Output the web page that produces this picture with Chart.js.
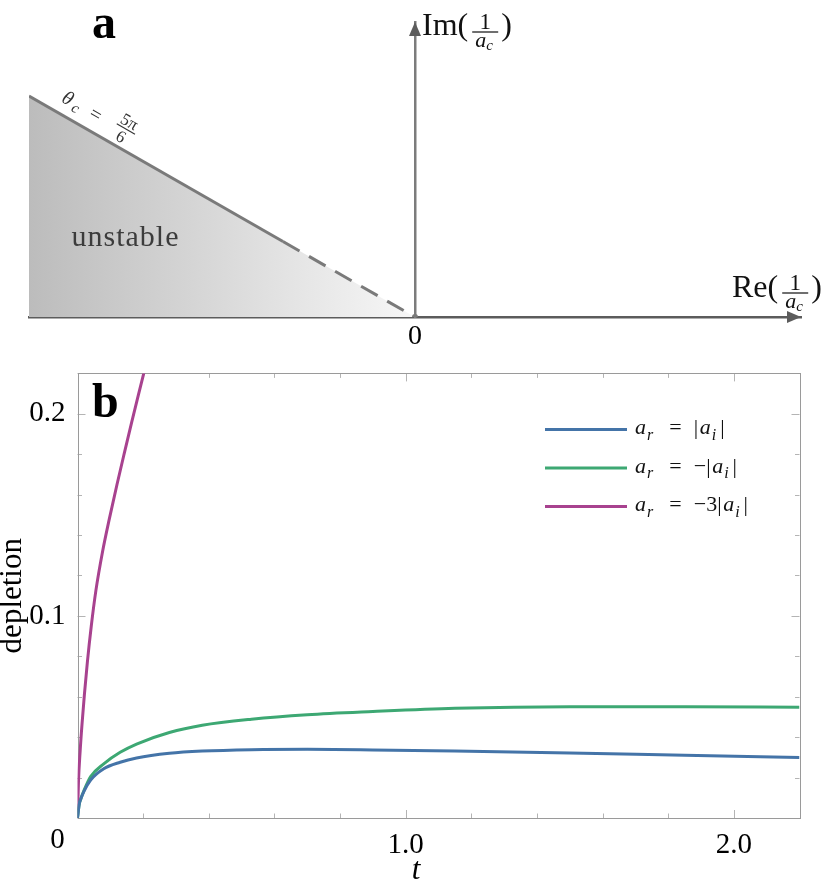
<!DOCTYPE html>
<html>
<head>
<meta charset="utf-8">
<script src="https://cdn.jsdelivr.net/npm/chart.js@4.4.0/dist/chart.umd.min.js"></script>
<style>
  body { margin: 0; background: #fff; }
  #wrap { position: relative; width: 830px; height: 881px; }
  #js--diagram { position: absolute; left: 0; top: 0; }
  #js--depletion { position: absolute; left: 0; top: 352px; }
</style>
</head>
<body>
<div id="wrap">
  <canvas id="js--diagram" width="830" height="352"></canvas>
  <canvas id="js--depletion" width="830" height="529"></canvas>
</div>
<script>
const serif = "'Liberation Serif', serif";

// panel a: the 1/a_c plane, wedge of instability (theta_c = 5pi/6)
const wedgeRe = [-1, -1, 0];
const wedgeIm = [0, 0.577, 0];
const solidRe = [-1, -0.342];
const solidIm = [0.577, 0.197];
const dashRe = [-0.342, 0];
const dashIm = [0.197, 0];

// panel b: depletion vs t
const tGrid = [0, 0.005, 0.01, 0.02, 0.04, 0.08, 0.13, 0.18, 0.28, 0.38, 0.53, 0.7, 0.9, 1.15, 1.5, 1.85, 2.2];
const depBlue = [0, 0.0066, 0.0094, 0.0133, 0.0188, 0.0244, 0.0276, 0.0297, 0.032, 0.0331, 0.0338, 0.034, 0.0337, 0.0331, 0.0322, 0.031, 0.0299];
const depGreen = [0, 0.0066, 0.0094, 0.0137, 0.0205, 0.0268, 0.0325, 0.0366, 0.0423, 0.0459, 0.0489, 0.0511, 0.0527, 0.0543, 0.0551, 0.0551, 0.0548];
const tMagenta = [0, 0.003, 0.008, 0.014, 0.021, 0.03, 0.042, 0.056, 0.076, 0.097, 0.12, 0.143, 0.165, 0.185, 0.2, 0.21];
const depMagenta = [0, 0.018, 0.033, 0.047, 0.061, 0.077, 0.095, 0.1125, 0.1315, 0.148, 0.1648, 0.1808, 0.1958, 0.209, 0.2188, 0.2252];
const seriesLabels = ['a_r = |a_i|', 'a_r = −|a_i|', 'a_r = −3|a_i|'];
const seriesColors = ['#4474a8', '#3da873', '#a8428f'];

function pts(xs, ys){
  return xs.map(function(x, i){ return {x: x, y: ys[i]}; });
}

function wedgeGradient(context){
  const chart = context.chart;
  if(!chart.chartArea) return '#d0d0d0';
  const x0 = chart.scales.x.getPixelForValue(-1);
  const x1 = chart.scales.x.getPixelForValue(0);
  const g = chart.ctx.createLinearGradient(x0, 0, x1, 0);
  g.addColorStop(0, '#bcbcbc');
  g.addColorStop(1, '#f7f7f7');
  return g;
}

function centered(ctx, txt, x, y){
  ctx.fillText(txt, x - ctx.measureText(txt).width / 2, y);
}

// 1 over a_c, bar at barY
function oneOverA(ctx, x, barY){
  ctx.font = '23px ' + serif;
  const w = 26;
  centered(ctx, '1', x + w / 2, barY - 3);
  ctx.fillRect(x, barY - 0.6, w, 1.2);
  ctx.font = 'italic 22px ' + serif;
  ctx.fillText('a', x + 3, barY + 15);
  ctx.font = 'italic 15px ' + serif;
  ctx.fillText('c', x + 14, barY + 18);
  return x + w;
}

const diagramLabels = {
  id: 'diagramLabels',
  afterDraw(chart){
    const ctx = chart.ctx;
    const xs = chart.scales.x, ys = chart.scales.y;
    const ox = xs.getPixelForValue(0), oy = ys.getPixelForValue(0);
    const right = xs.getPixelForValue(xs.max), top = ys.getPixelForValue(ys.max);
    ctx.save();
    // arrow heads
    ctx.fillStyle = '#5c5c5c';
    ctx.beginPath();
    ctx.moveTo(right, oy); ctx.lineTo(right - 14, oy - 6); ctx.lineTo(right - 14, oy + 6);
    ctx.fill();
    ctx.beginPath();
    ctx.moveTo(ox, top); ctx.lineTo(ox - 6, top + 14); ctx.lineTo(ox + 6, top + 14);
    ctx.fill();

    ctx.fillStyle = '#000';
    ctx.font = 'bold 48px ' + serif;
    ctx.fillText('a', 92, 38);

    ctx.font = '28px ' + serif;
    centered(ctx, '0', ox, oy + 27);

    // Im(1/a_c)
    ctx.fillStyle = '#111';
    ctx.font = '32px ' + serif;
    let x = ox + 7;
    ctx.fillText('Im(', x, top + 13);
    x += ctx.measureText('Im(').width + 4;
    x = oneOverA(ctx, x, top + 10);
    ctx.font = '32px ' + serif;
    ctx.fillText(')', x + 3, top + 13);

    // Re(1/a_c)
    x = 732;
    ctx.fillText('Re(', x, oy - 20);
    x += ctx.measureText('Re(').width + 4;
    x = oneOverA(ctx, x, oy - 24);
    ctx.font = '32px ' + serif;
    ctx.fillText(')', x + 3, oy - 20);

    // unstable
    ctx.fillStyle = '#3c3c3c';
    ctx.font = '30px ' + serif;
    ctx.letterSpacing = '1px';
    centered(ctx, 'unstable', xs.getPixelForValue(-0.75), ys.getPixelForValue(0.186));
    ctx.letterSpacing = '0px';

    // theta_c = 5pi/6 along the boundary
    const p0x = xs.getPixelForValue(solidRe[0]), p0y = ys.getPixelForValue(solidIm[0]);
    const p1x = xs.getPixelForValue(solidRe[1]), p1y = ys.getPixelForValue(solidIm[1]);
    ctx.translate(p0x, p0y);
    ctx.rotate(Math.atan2(p1y - p0y, p1x - p0x));
    ctx.fillStyle = '#333';
    ctx.font = 'italic 20px ' + serif;
    centered(ctx, 'θ', 35, -11);
    ctx.font = 'italic 15px ' + serif;
    ctx.fillText('c', 43, -8);
    ctx.font = '20px ' + serif;
    centered(ctx, '=', 67, -11);
    ctx.font = '17px ' + serif;
    centered(ctx, '5π', 100, -22);
    ctx.fillRect(90, -20, 21, 1.1);
    centered(ctx, '6', 100, -5);
    ctx.restore();
  }
};

const diagram = new Chart(document.getElementById('js--diagram'), {
  type: 'line',
  data: {
    datasets: [
      { data: pts(wedgeRe, wedgeIm), fill: 'origin', backgroundColor: wedgeGradient, borderWidth: 0, pointRadius: 0, order: 3 },
      { data: pts(solidRe, solidIm), borderColor: '#7a7a7a', borderWidth: 3, pointRadius: 0, order: 1 },
      { data: pts(dashRe, dashIm), borderColor: '#7a7a7a', borderWidth: 3, borderDash: [19, 11], pointRadius: [0, 3],
        pointBackgroundColor: '#7a7a7a', pointBorderWidth: 0, order: 0 }
    ]
  },
  options: {
    responsive: false,
    animation: false,
    devicePixelRatio: 1,
    layout: { padding: { left: 29, right: 29, top: 22, bottom: 35 } },
    plugins: { legend: { display: false }, tooltip: { enabled: false } },
    scales: {
      x: { type: 'linear', min: -1, max: 1, position: { y: 0 }, z: 1,
           grid: { display: false }, ticks: { display: false },
           border: { display: true, color: '#5c5c5c', width: 2.5 } },
      y: { type: 'linear', min: 0, max: 0.77, position: { x: 0 }, z: 1,
           grid: { display: false }, ticks: { display: false },
           border: { display: true, color: '#7c7c7c', width: 2.5 } }
    }
  },
  plugins: [diagramLabels]
});

function near(v, step){
  return Math.abs(v / step - Math.round(v / step)) < 1e-6;
}

const frame = {
  id: 'frame',
  beforeDatasetsDraw(chart){
    const ctx = chart.ctx, a = chart.chartArea;
    const xs = chart.scales.x, ys = chart.scales.y;
    ctx.save();
    ctx.lineWidth = 1;
    ctx.strokeStyle = '#b4b4b4';
    ctx.beginPath();
    xs.ticks.forEach(function(tk){
      const px = Math.round(xs.getPixelForValue(tk.value)) + 0.5;
      const len = near(tk.value, 1) ? 8 : 4.5;
      ctx.moveTo(px, a.bottom); ctx.lineTo(px, a.bottom - len);
      ctx.moveTo(px, a.top); ctx.lineTo(px, a.top + len);
    });
    ys.ticks.forEach(function(tk){
      const py = Math.round(ys.getPixelForValue(tk.value)) + 0.5;
      const len = near(tk.value, 0.1) ? 8 : 4.5;
      ctx.moveTo(a.left, py); ctx.lineTo(a.left + len, py);
      ctx.moveTo(a.right, py); ctx.lineTo(a.right - len, py);
    });
    ctx.stroke();
    ctx.strokeStyle = '#9a9a9a';
    ctx.strokeRect(Math.round(a.left) + 0.5, Math.round(a.top) + 0.5,
                   Math.round(a.right - a.left), Math.round(a.bottom - a.top));
    ctx.restore();
  }
};

function drawMath(ctx, text, x, y, size){
  for(let i = 0; i < text.length; i++){
    const c = text[i];
    if(c === '_'){
      ctx.font = 'italic ' + Math.round(size * 0.72) + 'px ' + serif;
      ctx.fillText(text[i + 1], x + 1, y + size * 0.25);
      x += ctx.measureText(text[i + 1]).width + 5;
      i++;
    }
    else if(c === ' '){
      x += size * 0.55;
    }
    else{
      ctx.font = (/[a-z]/.test(c) ? 'italic ' : '') + size + 'px ' + serif;
      ctx.fillText(c, x, y);
      x += ctx.measureText(c).width + (c === '|' ? 1.5 : 0);
    }
  }
}

const depletionLabels = {
  id: 'depletionLabels',
  afterDraw(chart){
    const ctx = chart.ctx, a = chart.chartArea;
    ctx.save();
    ctx.fillStyle = '#000';
    ctx.font = 'bold 48px ' + serif;
    ctx.fillText('b', 92, a.top + 44);

    ctx.font = '29px ' + serif;
    centered(ctx, '0', a.left - 20, a.bottom + 30);
    ctx.font = 'italic 31px ' + serif;
    centered(ctx, 't', 416, a.bottom + 61);

    // legend
    chart.data.datasets.forEach(function(ds, i){
      const y = a.top + 56 + i * 38.5;
      ctx.strokeStyle = ds.borderColor;
      ctx.lineWidth = 3;
      ctx.beginPath();
      ctx.moveTo(545, y); ctx.lineTo(627, y);
      ctx.stroke();
      ctx.fillStyle = '#111';
      drawMath(ctx, ds.label, 635, y + 5, 22);
    });
    ctx.restore();
  }
};

const depletion = new Chart(document.getElementById('js--depletion'), {
  type: 'line',
  data: {
    datasets: [
      { label: seriesLabels[0], data: pts(tGrid, depBlue), borderColor: seriesColors[0] },
      { label: seriesLabels[1], data: pts(tGrid, depGreen), borderColor: seriesColors[1] },
      { label: seriesLabels[2], data: pts(tMagenta, depMagenta), borderColor: seriesColors[2] }
    ]
  },
  options: {
    responsive: false,
    animation: false,
    devicePixelRatio: 1,
    layout: { padding: { left: 0, right: 30.5, top: 16, bottom: 0 } },
    plugins: { legend: { display: false }, tooltip: { enabled: false } },
    elements: {
      point: { radius: 0 },
      line: { borderWidth: 3, cubicInterpolationMode: 'monotone', fill: false }
    },
    scales: {
      x: {
        type: 'linear', min: 0, max: 2.2,
        grid: { display: false }, border: { display: false },
        ticks: {
          stepSize: 0.2, autoSkip: false, maxRotation: 0, padding: 2, color: '#000',
          font: { family: serif, size: 29 },
          callback: function(v){ return (near(v, 1) && v > 0.5) ? v.toFixed(1) : ''; }
        },
        afterFit: function(scale){ scale.height = 63; }
      },
      y: {
        type: 'linear', min: 0, max: 0.22,
        grid: { display: false }, border: { display: false },
        ticks: {
          stepSize: 0.02, maxTicksLimit: 20, padding: 4, color: '#000',
          font: { family: serif, size: 29 },
          callback: function(v){ return (near(v, 0.1) && v > 0.05) ? v.toFixed(1) : ''; }
        },
        title: { display: true, text: 'depletion', color: '#000', padding: 0,
                 font: { family: serif, size: 31, lineHeight: 0.8 } },
        afterFit: function(scale){ scale.width = 77.5; }
      }
    }
  },
  plugins: [frame, depletionLabels]
});
</script>
</body>
</html>
